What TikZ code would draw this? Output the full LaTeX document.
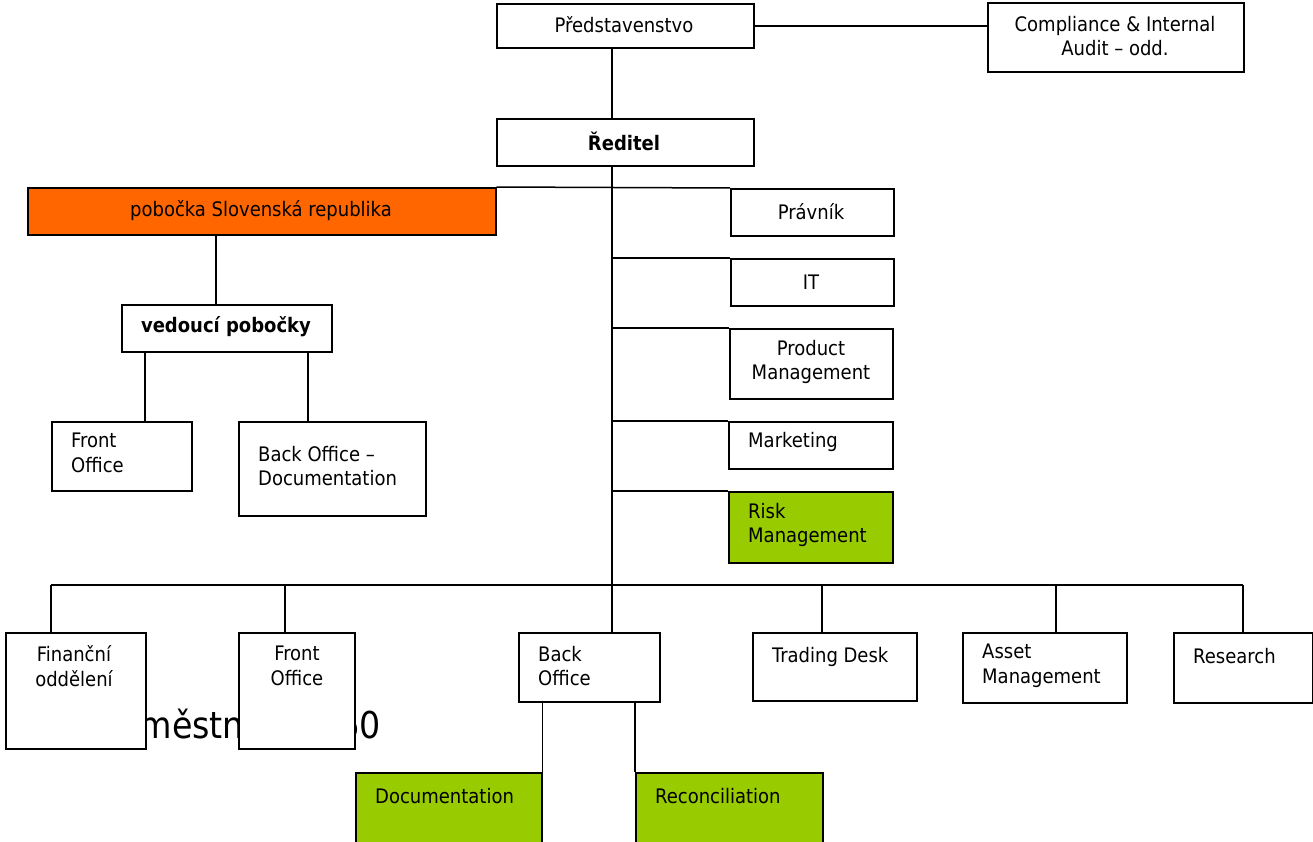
\documentclass[tikz,border=0pt]{standalone}
\usepackage{fontspec}
\setmainfont{DejaVu Sans Condensed}
\definecolor{orgorange}{HTML}{FF6600}
\definecolor{orggreen}{HTML}{99CC00}
\tikzset{
  box/.style={draw=black, line width=1.6pt, fill=white, inner sep=0pt, anchor=north west},
  lbl/.style={inner sep=0pt, font=\fontsize{20}{24.5}\selectfont},
  lnk/.style={draw=black, line width=1.5pt},
}
\newcommand\orgbox[6][]{\node[box,#1, minimum width=#4pt-#2pt, minimum height=#5pt-#3pt] (#6) at (#2,#3) {};}
\begin{document}
\begin{tikzpicture}[x=1pt,y=-1pt]
\useasboundingbox (0,0) rectangle (1313,842);
% background text partly hidden by boxes
\node[inner sep=0pt, anchor=base east, font=\fontsize{37}{40}\selectfont] (bg) at (381,738) {Zaměstnanci: 60};
% boxes
\orgbox{496}{3}{753}{47}{pred}
\orgbox{987}{2}{1243}{71}{comp}
\orgbox{496}{118}{753}{165}{red}
\orgbox[fill=orgorange]{27}{187}{495}{234}{pob}
\orgbox{730}{188}{893}{235}{prav}
\orgbox{730}{258}{893}{305}{it}
\orgbox{729}{328}{892}{398}{pm}
\orgbox{728}{421}{892}{468}{mkt}
\orgbox[fill=orggreen]{728}{491}{892}{562}{risk}
\orgbox{121}{304}{331}{351}{ved}
\orgbox{51}{421}{191}{490}{fo1}
\orgbox{238}{421}{425}{515}{bod}
\orgbox{5}{632}{145}{748}{fin}
\orgbox{238}{632}{354}{748}{fo2}
\orgbox{518}{632}{659}{701}{bo}
\orgbox{752}{632}{916}{700}{td}
\orgbox{962}{632}{1126}{702}{am}
\orgbox{1173}{632}{1312}{702}{res}
\orgbox[fill=orggreen]{355}{772}{541}{842}{doc}
\orgbox[fill=orggreen]{635}{772}{822}{842}{rec}
% labels
\node[lbl] (t-pred) at (624,25) {Představenstvo};
\node[lbl, align=center] (t-comp) at (1115,36) {Compliance \& Internal\\Audit – odd.};
\node[lbl, font=\fontsize{20}{24.5}\selectfont\bfseries] (t-red) at (624,141) {Ředitel};
\node[lbl] (t-pob) at (261,211) {pobočka Slovenská republika};
\node[lbl] (t-prav) at (811,212) {Právník};
\node[lbl] (t-it) at (811,282) {IT};
\node[lbl, align=center] (t-pm) at (811,362) {Product\\Management};
\node[lbl, anchor=west] (t-mkt) at (748,442) {Marketing};
\node[lbl, anchor=west, align=left] (t-risk) at (748,525) {Risk\\Management};
\node[lbl, font=\fontsize{20}{24.5}\selectfont\bfseries] (t-ved) at (226,327) {vedoucí pobočky};
\node[lbl, anchor=west, align=left] (t-fo1) at (71,453) {Front\\Office};
\node[lbl, anchor=west, align=left] (t-bod) at (258,466) {Back Office –\\Documentation};
\node[lbl, align=center] (t-fin) at (74,666) {Finanční\\oddělení};
\node[lbl, align=center] (t-fo2) at (297,666) {Front\\Office};
\node[lbl, anchor=west, align=left] (t-bo) at (538,666) {Back\\Office};
\node[lbl, anchor=west] (t-td) at (772,657) {Trading Desk};
\node[lbl, anchor=west, align=left] (t-am) at (982,666) {Asset\\Management};
\node[lbl, anchor=west] (t-res) at (1193,656) {Research};
\node[lbl, anchor=west] (t-doc) at (375,796) {Documentation};
\node[lbl, anchor=west] (t-rec) at (655,796) {Reconciliation};
% helper coordinates
\coordinate (trunk) at (612,165);
\coordinate (bus) at (612,585);
% connectors
\draw[lnk] (pred.east) -- (pred.east -| comp.west);
\draw[lnk] (pred.south -| trunk) -- (red.north -| trunk);
\draw[lnk] (red.south -| trunk) -- (bo.north -| trunk);
\draw[lnk] (pob.north east) -- (prav.north west);
\draw[lnk] (it.north west) -- (it.north west -| trunk);
\draw[lnk] (pm.north west) -- (pm.north west -| trunk);
\draw[lnk] (mkt.north west) -- (mkt.north west -| trunk);
\draw[lnk] (risk.north west) -- (risk.north west -| trunk);
\draw[lnk] (pob.south -| ved.north) ++(-11,0) coordinate (pv) -- (pv |- ved.north);
\draw[lnk] (fo1.north west) ++(94,0) coordinate (v1) -- (v1 |- ved.south);
\draw[lnk] (bod.north west) ++(70,0) coordinate (v2) -- (v2 |- ved.south);
\draw[lnk] (fin.north west) ++(46,0) coordinate (b1) -- (b1 |- bus);
\draw[lnk] (res.north west) ++(70,0) coordinate (b6) -- (b6 |- bus);
\draw[lnk] (fo2.north west) ++(47,0) coordinate (b2) -- (b2 |- bus);
\draw[lnk] (td.north west) ++(70,0) coordinate (b4) -- (b4 |- bus);
\draw[lnk] (am.north west) ++(94,0) coordinate (b5) -- (b5 |- bus);
\draw[lnk] (b1 |- bus) -- (b6 |- bus);
\draw[lnk] (doc.north east) ++(0,0) coordinate (d1) -- (d1 |- bo.south);
\draw[lnk] (rec.north west) ++(0,0) coordinate (d2) -- (d2 |- bo.south);
\end{tikzpicture}
\end{document}
